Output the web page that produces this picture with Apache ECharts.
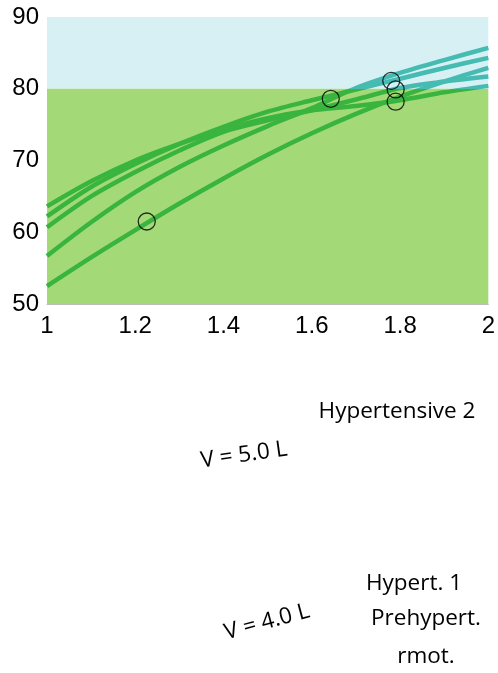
<!DOCTYPE html>
<html>
<head>
<meta charset="utf-8">
<script src="https://cdn.jsdelivr.net/npm/echarts@6/dist/echarts.min.js"></script>
<style>
html,body{margin:0;padding:0;background:#fff;}
#chart{width:498px;height:673px;}
</style>
</head>
<body>
<div id="chart"></div>
<script>
// ---- data ----
const xs = [1.0, 1.1, 1.2, 1.3, 1.4, 1.5, 1.6, 1.7, 1.8, 1.9, 2.0];
const lineA = [63.6, 67.1, 70.0, 72.3, 74.3, 75.9, 77.0, 77.6, 78.4, 79.5, 80.4];
const lineB = [62.2, 66.3, 69.5, 72.3, 74.7, 76.8, 78.4, 79.9, 81.4, 82.9, 84.3];
const lineC = [60.7, 65.0, 68.4, 71.4, 74.0, 75.6, 77.0, 78.5, 80.1, 81.0, 81.7];
const lineD = [56.7, 61.4, 65.6, 69.1, 72.1, 74.8, 77.3, 80.1, 82.2, 84.0, 85.7];
const lineE = [52.5, 56.5, 60.3, 64.0, 67.5, 70.8, 73.8, 76.5, 78.9, 81.0, 82.9];
const circleX = [1.226, 1.643, 1.78, 1.79, 1.79];
const circleY = [61.5, 78.6, 81.1, 79.9, 78.2];
const xTickLabels = ['1', '1.2', '1.4', '1.6', '1.8', '2'];
const yTickLabels = ['50', '60', '70', '80', '90'];
const threshold = 80;
const annotations = [
  {text: 'Hypertensive 2', x: 397, y: 412, rot: 0},
  {text: 'V = 5.0 L', x: 244, y: 455, rot: 8},
  {text: 'V = 4.0 L', x: 267, y: 622, rot: 15},
  {text: 'Hypert. 1', x: 414, y: 584, rot: 0},
  {text: 'Prehypert.', x: 426, y: 619, rot: 0},
  {text: 'rmot.', x: 426, y: 657, rot: 0}
];

const lines = [lineA, lineB, lineC, lineD, lineE];
const GREEN = '#38b43f';
const TEAL = '#45bbb2';

const lineSeries = lines.map(vals => ({
  type: 'line',
  data: xs.map((x, i) => [x, vals[i]]),
  smooth: 0.3,
  showSymbol: false,
  lineStyle: {width: 4.5},
  silent: true,
  z: 3
}));

const chart = echarts.init(document.getElementById('chart'), null, {renderer: 'canvas'});
chart.setOption({
  animation: false,
  backgroundColor: '#ffffff',
  grid: {left: 47, right: 9, top: 17, bottom: 369},
  xAxis: {
    type: 'value', min: 1, max: 2, interval: 0.2,
    axisLine: {show: true, lineStyle: {color: '#bdbdbd', width: 1}},
    axisTick: {show: false},
    splitLine: {show: false},
    axisLabel: {
      color: '#000', fontSize: 24, fontFamily: 'Liberation Sans, Arial, sans-serif', margin: 10,
      formatter: (v) => xTickLabels[Math.round((v - 1) / 0.2)]
    }
  },
  yAxis: {
    type: 'value', min: 50, max: 90, interval: 10,
    axisLine: {show: false},
    axisTick: {show: false},
    splitLine: {show: false},
    axisLabel: {
      color: '#000', fontSize: 24, fontFamily: 'Liberation Sans, Arial, sans-serif', margin: 8,
      formatter: (v) => yTickLabels[Math.round((v - 50) / 10)]
    }
  },
  visualMap: {
    type: 'piecewise', show: false, dimension: 1,
    seriesIndex: [0, 1, 2, 3, 4],
    pieces: [{gte: 40, lt: threshold, color: GREEN}, {gte: threshold, lte: 100, color: TEAL}]
  },
  series: lineSeries.concat([{
    type: 'scatter',
    data: circleX.map((x, i) => [x, circleY[i]]),
    symbol: 'circle',
    symbolSize: 17,
    itemStyle: {color: 'rgba(0,0,0,0)', borderColor: '#000', borderWidth: 1.3},
    silent: true,
    z: 5,
    markArea: {
      silent: true,
      z: 1,
      data: [
        [{yAxis: threshold, itemStyle: {color: '#d6f0f4', opacity: 1}}, {yAxis: 90}],
        [{yAxis: 50, itemStyle: {color: '#a3d977', opacity: 1}}, {yAxis: threshold}]
      ]
    }
  }]),
  graphic: annotations.map(a => ({
    type: 'text',
    x: a.x, y: a.y,
    rotation: a.rot * Math.PI / 180,
    style: {
      text: a.text, fill: '#000', fontSize: 22.5,
      fontFamily: '"Open Sans", Lato, sans-serif',
      textAlign: 'center',
      textVerticalAlign: 'middle'
    }
  }))
});
</script>
</body>
</html>
